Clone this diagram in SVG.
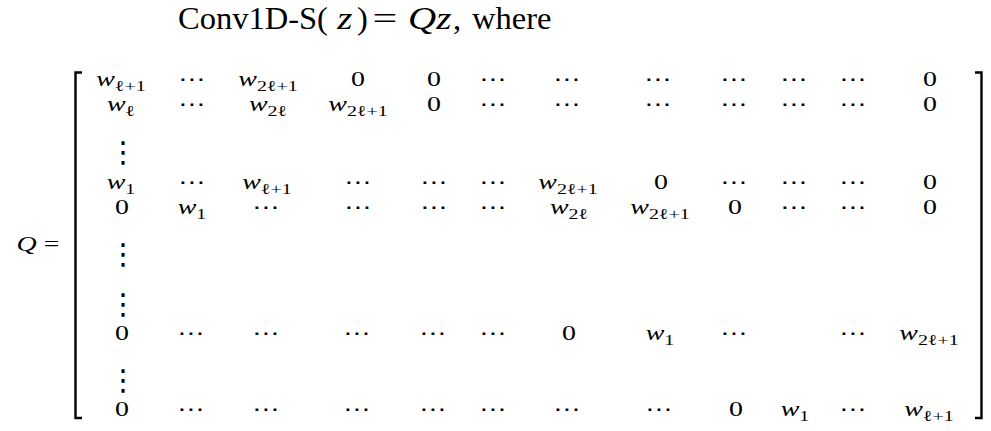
<svg xmlns="http://www.w3.org/2000/svg" width="991" height="431" viewBox="0 0 991 431">
<style>
text { font-family: "Liberation Serif", "DejaVu Serif", serif; fill: #000; }
.t { font-size: 32.5px; }
.tm { font-size: 32.5px; font-style: italic; transform-box: fill-box; transform-origin: left center; transform: scaleX(1.2); }
.eq { font-size: 32.5px; text-anchor: middle; transform-box: fill-box; transform-origin: center; transform: scaleX(1.35); }
.m { font-size: 21px; text-anchor: middle; transform-box: fill-box; transform-origin: center; transform: scaleX(1.33); }
.i { font-style: italic; }
.s { font-size: 15px; }
.d { font-family: "DejaVu Sans", sans-serif; font-size: 20px; }
.v { font-family: "DejaVu Sans", sans-serif; font-size: 29px; text-anchor: middle; }
.br { fill: none; stroke: #000; stroke-width: 2.4; }
</style>
<rect width="991" height="431" fill="#fff"/>
<g id="title">
<text class="t" x="178" y="29">Conv1D-S(</text>
<text class="tm" x="337" y="29">z</text>
<text class="t" x="357" y="29">)</text>
<text class="eq" x="385" y="29">=</text>
<text class="tm" x="408" y="29">Qz</text>
<text class="t" x="453" y="29">,</text>
<text class="t" x="472" y="29">where</text>
</g>
<g id="lhs">
<text class="m" x="38" y="251"><tspan class="i">Q</tspan> =</text>
</g>
<g id="brackets">
<path class="br" d="M82,72.5 H75.5 V418 H82"/>
<path class="br" d="M975,72.5 H981.5 V418 H975"/>
</g>
<g id="row1">
<text class="m" x="121" y="86"><tspan class="i">w</tspan><tspan class="s" dy="5">ℓ+1</tspan></text>
<text class="m d" x="192" y="86">⋯</text>
<text class="m" x="268" y="86"><tspan class="i">w</tspan><tspan class="s" dy="5">2ℓ+1</tspan></text>
<text class="m" x="358" y="86">0</text>
<text class="m" x="434" y="86">0</text>
<text class="m d" x="493" y="86">⋯</text>
<text class="m d" x="567" y="86">⋯</text>
<text class="m d" x="658" y="86">⋯</text>
<text class="m d" x="734" y="86">⋯</text>
<text class="m d" x="794" y="86">⋯</text>
<text class="m d" x="853" y="86">⋯</text>
<text class="m" x="930" y="86">0</text>
</g>
<g id="row2">
<text class="m" x="121" y="111"><tspan class="i">w</tspan><tspan class="s" dy="5">ℓ</tspan></text>
<text class="m d" x="192" y="111">⋯</text>
<text class="m" x="268" y="111"><tspan class="i">w</tspan><tspan class="s" dy="5">2ℓ</tspan></text>
<text class="m" x="358" y="111"><tspan class="i">w</tspan><tspan class="s" dy="5">2ℓ+1</tspan></text>
<text class="m" x="434" y="111">0</text>
<text class="m d" x="493" y="111">⋯</text>
<text class="m d" x="567" y="111">⋯</text>
<text class="m d" x="658" y="111">⋯</text>
<text class="m d" x="734" y="111">⋯</text>
<text class="m d" x="794" y="111">⋯</text>
<text class="m d" x="853" y="111">⋯</text>
<text class="m" x="930" y="111">0</text>
</g>
<g id="vdots1"><text class="v" x="123" y="162">⋮</text></g>
<g id="row4">
<text class="m" x="121" y="189"><tspan class="i">w</tspan><tspan class="s" dy="5">1</tspan></text>
<text class="m d" x="192" y="189">⋯</text>
<text class="m" x="267" y="189"><tspan class="i">w</tspan><tspan class="s" dy="5">ℓ+1</tspan></text>
<text class="m d" x="358" y="189">⋯</text>
<text class="m d" x="434" y="189">⋯</text>
<text class="m d" x="493" y="189">⋯</text>
<text class="m" x="568" y="189"><tspan class="i">w</tspan><tspan class="s" dy="5">2ℓ+1</tspan></text>
<text class="m" x="661" y="189">0</text>
<text class="m d" x="734" y="189">⋯</text>
<text class="m d" x="794" y="189">⋯</text>
<text class="m d" x="853" y="189">⋯</text>
<text class="m" x="930" y="189">0</text>
</g>
<g id="row5">
<text class="m" x="122" y="214">0</text>
<text class="m" x="192" y="214"><tspan class="i">w</tspan><tspan class="s" dy="5">1</tspan></text>
<text class="m d" x="266" y="214">⋯</text>
<text class="m d" x="358" y="214">⋯</text>
<text class="m d" x="434" y="214">⋯</text>
<text class="m d" x="493" y="214">⋯</text>
<text class="m" x="569" y="214"><tspan class="i">w</tspan><tspan class="s" dy="5">2ℓ</tspan></text>
<text class="m" x="660" y="214"><tspan class="i">w</tspan><tspan class="s" dy="5">2ℓ+1</tspan></text>
<text class="m" x="735" y="214">0</text>
<text class="m d" x="794" y="214">⋯</text>
<text class="m d" x="853" y="214">⋯</text>
<text class="m" x="930" y="214">0</text>
</g>
<g id="vdots2"><text class="v" x="123" y="264">⋮</text></g>
<g id="vdots3"><text class="v" x="123" y="314">⋮</text></g>
<g id="row8">
<text class="m" x="122" y="340">0</text>
<text class="m d" x="191" y="340">⋯</text>
<text class="m d" x="266" y="340">⋯</text>
<text class="m d" x="357" y="340">⋯</text>
<text class="m d" x="433" y="340">⋯</text>
<text class="m d" x="493" y="340">⋯</text>
<text class="m" x="569" y="340">0</text>
<text class="m" x="660" y="340"><tspan class="i">w</tspan><tspan class="s" dy="5">1</tspan></text>
<text class="m d" x="734" y="340">⋯</text>
<text class="m d" x="853" y="340">⋯</text>
<text class="m" x="929" y="340"><tspan class="i">w</tspan><tspan class="s" dy="5">2ℓ+1</tspan></text>
</g>
<g id="vdots4"><text class="v" x="123" y="390">⋮</text></g>
<g id="row10">
<text class="m" x="122" y="416">0</text>
<text class="m d" x="191" y="416">⋯</text>
<text class="m d" x="266" y="416">⋯</text>
<text class="m d" x="357" y="416">⋯</text>
<text class="m d" x="433" y="416">⋯</text>
<text class="m d" x="493" y="416">⋯</text>
<text class="m d" x="567" y="416">⋯</text>
<text class="m d" x="659" y="416">⋯</text>
<text class="m" x="736" y="416">0</text>
<text class="m" x="795" y="416"><tspan class="i">w</tspan><tspan class="s" dy="5">1</tspan></text>
<text class="m d" x="853" y="416">⋯</text>
<text class="m" x="929" y="416"><tspan class="i">w</tspan><tspan class="s" dy="5">ℓ+1</tspan></text>
</g>
</svg>
